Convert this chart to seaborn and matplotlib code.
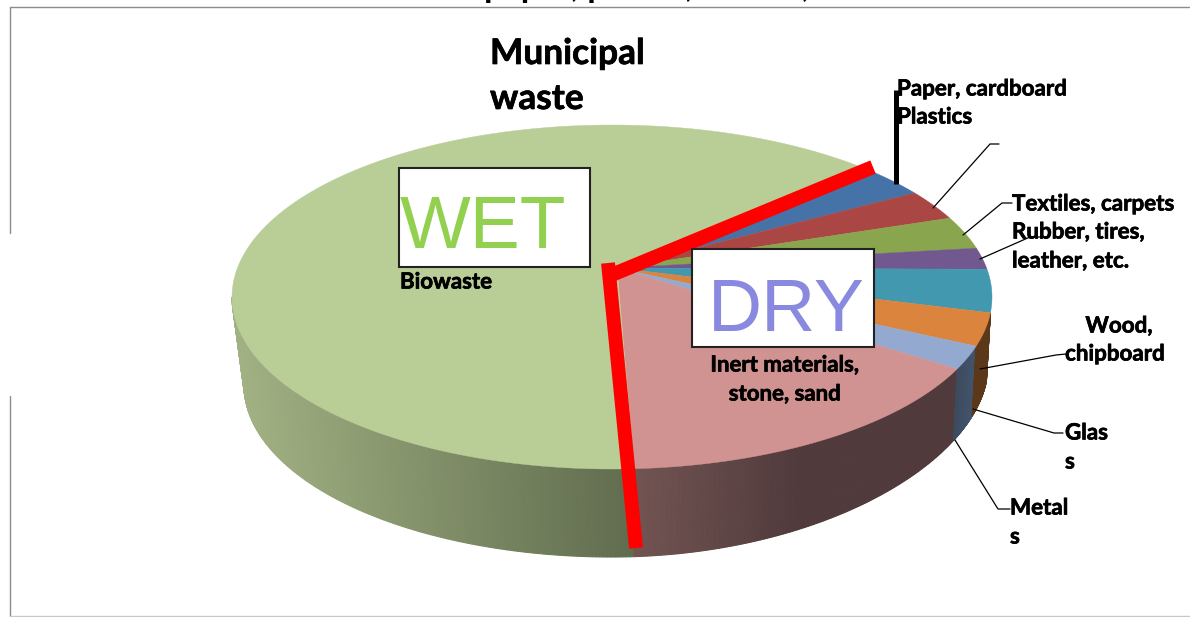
import numpy as np
import matplotlib
matplotlib.use('Agg')
import matplotlib.pyplot as plt
import matplotlib.patheffects as pe
import seaborn as sns

# 各部分占比（从图上读的，单位 %）
categories = ['Paper, cardboard', 'Plastics', 'Textiles, carpets', 'Rubber, tires, leather, etc.',
              'Wood, chipboard', 'Glass', 'Metals', 'Inert materials, stone, sand', 'Biowaste']
shares = [2.5, 2.75, 3.0, 2.0, 4.05, 3.15, 2.25, 17.2, 63.1]
top_colors = ['#4572A7', '#AA4643', '#89A54E', '#71588F', '#4198AF',
              '#DB843D', '#93A9CF', '#D19392', '#B9CD96']
start_angle = 46.2

sns.set_theme(style='white')
plt.rcParams['font.family'] = ['Lato', 'DejaVu Sans']

# 椭圆参数（像素坐标）
cx, cy, rx, ry = 612, 297, 380, 172
apex = (617, 268)


def top_point(t):
    return cx + rx * np.cos(t), cy - ry * np.sin(t)


def bottom_point(t):
    c = np.cos(t)
    r = np.where(c > 0, 376, 368)
    depth = 88 - 20 * np.clip(c, 0, 1) ** 2
    return cx + r * c, cy - ry * np.sin(t) + depth


fig = plt.figure(figsize=(11.9, 6.17), dpi=100)
ax = fig.add_axes([0, 0, 1, 1])
ax.set_xlim(0, 1190)
ax.set_ylim(617, 0)
ax.axis('off')

# 扇区角度，顺时针
edges = start_angle - np.cumsum([0] + shares) * 3.6


def wall(a0, a1, c0, c1, x0=None, x1=None):
    # 侧面用很多窄条做渐变
    ts = np.radians(np.linspace(a0, a1, 160))
    c0, c1 = np.array(c0) / 255, np.array(c1) / 255
    xs = top_point(ts)[0]
    lo = xs[0] if x0 is None else x0
    hi = xs[-1] if x1 is None else x1
    for i in range(len(ts) - 1):
        pair = ts[i:i + 2]
        xt, yt = top_point(pair)
        xb, yb = bottom_point(pair)
        f = np.clip((xt.mean() - lo) / (hi - lo), 0, 1)
        col = c0 + (c1 - c0) * f
        ax.fill([xt[0], xt[1], xb[1], xb[0]], [yt[0], yt[1], yb[1], yb[0]],
                color=col, lw=0.8, zorder=1)


# 侧面：生物垃圾、惰性材料、金属、玻璃
wall(180, edges[8] + 360, (163, 178, 132), (96, 108, 78))
wall(edges[8], edges[7], (114, 84, 82), (80, 58, 60), 636, 800)
wall(edges[7], edges[6], (60, 74, 92), (66, 84, 108))
wall(edges[6], edges[5], (92, 56, 26), (92, 56, 26))

# 顶面
for i, name in enumerate(categories):
    ts = np.radians(np.linspace(edges[i], edges[i + 1], 200))
    xs, ys = top_point(ts)
    ax.fill(np.r_[apex[0], xs], np.r_[apex[1], ys], color=top_colors[i], lw=0.3, zorder=2)

# 外框线（原图有断开）
frame = '#8c8c8c'
ax.plot([10, 1190], [7, 7], color=frame, lw=1.0, zorder=0)
ax.plot([10, 10], [7, 233], color=frame, lw=1.0, zorder=0)
ax.plot([10, 10], [396, 616], color=frame, lw=1.0, zorder=0)
ax.plot([10, 1190], [616, 616], color='#c8c8c8', lw=1.0, zorder=0)

# 引线
leaders = [([933, 990, 999], [208, 144, 144]),
           ([963, 1002, 1012], [235, 203, 203]),
           ([980, 1030, 1047], [259, 237, 237]),
           ([980, 1056, 1066], [369, 355, 354]),
           ([973, 1054, 1063], [409, 433, 433]),
           ([955, 998, 1010], [440, 509, 509])]
for lx, ly in leaders:
    ax.plot(lx, ly, color='black', lw=0.9, zorder=3)

ax.plot([895.5, 895.5], [90, 184], color='black', lw=3.6, solid_capstyle='butt', zorder=3)

# 红线
ax.plot([609, 873], [276, 167], color='#FF0000', lw=10.2, solid_capstyle='butt', zorder=5)
ax.plot([608, 636], [263, 548], color='#FF0000', lw=10.0, solid_capstyle='butt', zorder=5)

# WET / DRY 方框
for bx, by, bw, bh, word, col, tx, ty in [(399, 168, 191, 99, 'WET', '#92D050', 400, 248),
                                         (692, 249, 182, 98, 'DRY', '#8989E0', 708, 331)]:
    ax.add_patch(plt.Rectangle((bx, by), bw, bh, fc='white', ec='#222222', lw=1.5, zorder=6))
    ax.text(tx, ty, word, color=col, fontsize=54, family='Liberation Sans', va='baseline', ha='left', zorder=7)

# 文字
thick = [pe.withStroke(linewidth=0.5, foreground='black')]
bold = dict(fontweight='bold', color='black', zorder=8, va='center', path_effects=thick)
ax.text(484, -3, 'paper, plastic, metals,', fontsize=24.5, fontweight='bold', color='black',
        va='baseline', ha='left', zorder=8)
ax.text(490, 54, 'Municipal', fontsize=25.4, ha='left', **bold)
ax.text(490, 99, 'waste', fontsize=25.4, ha='left', **bold)
ax.text(400, 282, 'Biowaste', fontsize=16, ha='left', **bold)
ax.text(785, 365, 'Inert materials,', fontsize=16, ha='center', **bold)
ax.text(785, 394, 'stone, sand', fontsize=16, ha='center', **bold)
ax.text(897, 89, 'Paper, cardboard', fontsize=16.1, ha='left', **bold)
ax.text(897, 117, 'Plastics', fontsize=16.1, ha='left', **bold)
ax.text(1012, 204, 'Textiles, carpets', fontsize=16.1, ha='left', **bold)
ax.text(1012, 232, 'Rubber, tires,', fontsize=16.1, ha='left', **bold)
ax.text(1012, 261, 'leather, etc.', fontsize=16.1, ha='left', **bold)
ax.text(1119, 326, 'Wood,', fontsize=16.1, ha='center', **bold)
ax.text(1115, 354, 'chipboard', fontsize=16.1, ha='center', **bold)
ax.text(1065, 433, 'Glas', fontsize=16.1, ha='left', **bold)
ax.text(1065, 462, 's', fontsize=16.1, ha='left', **bold)
ax.text(1010, 508, 'Metal', fontsize=16.1, ha='left', **bold)
ax.text(1010, 537, 's', fontsize=16.1, ha='left', **bold)

fig.savefig('out.png', dpi=100)
plt.close(fig)
